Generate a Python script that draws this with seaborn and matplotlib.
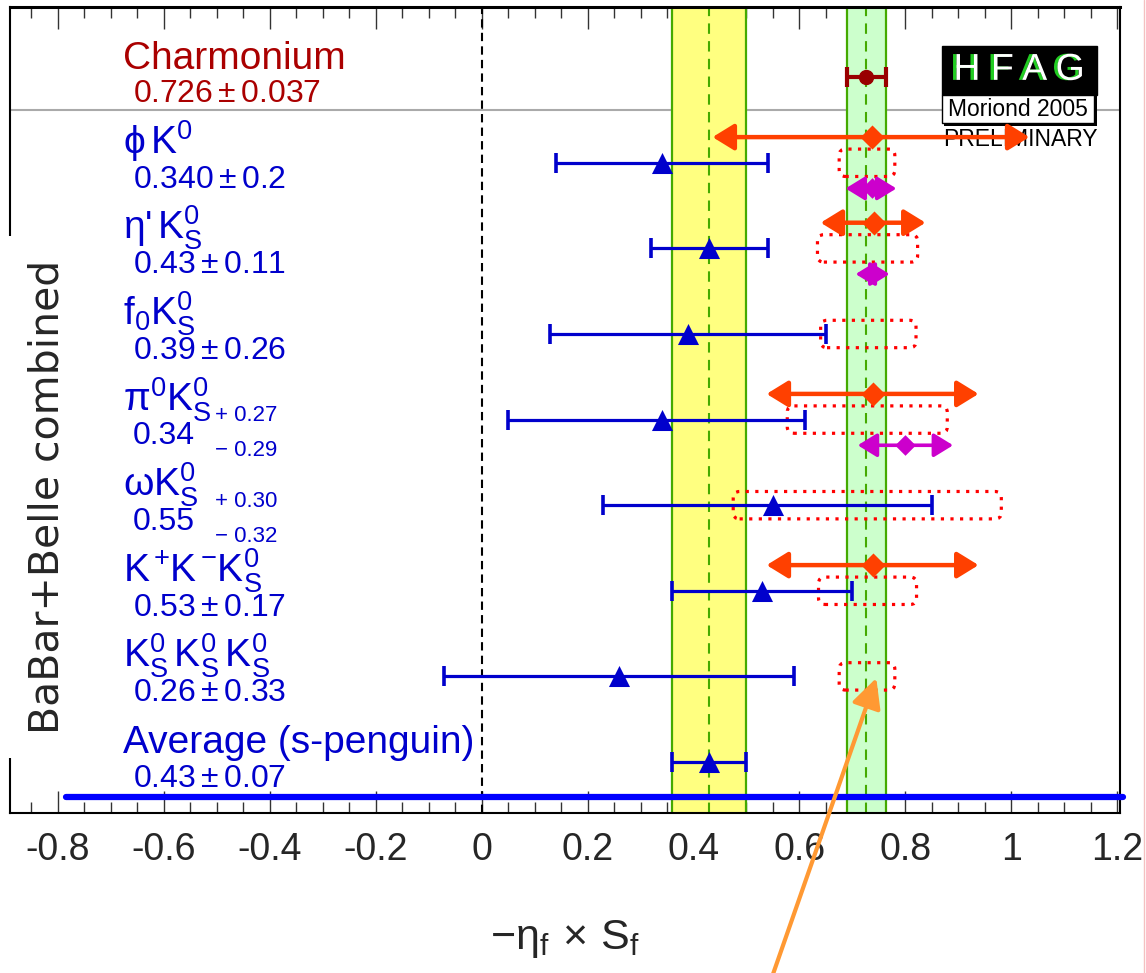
import numpy as np
import matplotlib
matplotlib.use("Agg")
import matplotlib.pyplot as plt
import matplotlib.patheffects as pe
import seaborn as sns
from matplotlib.patches import FancyBboxPatch, FancyArrowPatch, Rectangle
from matplotlib.lines import Line2D
from matplotlib.ticker import MultipleLocator, FixedLocator, FixedFormatter


#--------------------Data--------------------------------------------
modes = ["Charmonium", r"$\phi\,K^0$", r"$\eta$'$\,K^0_S$", r"$f_0K^0_S$", r"$\pi^0K^0_S$",
         r"$\omega K^0_S$", r"$K^+\!K^-\!K^0_S$", r"$K^0_S\,K^0_S\,K^0_S$",
         "Average (s-penguin)"]
value_labels = [r"$0.726\pm0.037$", r"$0.340\pm0.2$", r"$0.43\pm0.11$", r"$0.39\pm0.26$",
                "0.34", "0.55", r"$0.53\pm0.17$", r"$0.26\pm0.33$", r"$0.43\pm0.07$"]
# asymmetric errors are written as separate small labels
asym_rows = [5, 4]
asym_plus = ["+ 0.27", "+ 0.30"]
asym_minus = ["\u2212 0.29", "\u2212 0.32"]

rows = [9, 8, 7, 6, 5, 4, 3, 2, 1]
central = [0.726, 0.34, 0.43, 0.39, 0.34, 0.55, 0.53, 0.26, 0.43]
err_lo = [0.037, 0.20, 0.11, 0.26, 0.29, 0.32, 0.17, 0.33, 0.07]
err_hi = [0.037, 0.20, 0.11, 0.26, 0.27, 0.30, 0.17, 0.33, 0.07]

# dotted boxes (predicted ranges)
box_rows = [8, 7, 6, 5, 4, 3, 2]
box_lo = [0.675, 0.634, 0.640, 0.577, 0.475, 0.636, 0.675]
box_hi = [0.780, 0.823, 0.820, 0.879, 0.981, 0.821, 0.780]

# orange double arrows
arr_rows = [8, 7, 5, 3]
arr_c = [0.736, 0.740, 0.738, 0.738]
arr_lo = [0.436, 0.640, 0.538, 0.538]
arr_hi = [1.034, 0.838, 0.938, 0.938]

# magenta double arrows
mag_rows = [8, 7, 5]
mag_c = [0.736, 0.738, 0.800]
mag_lo = [0.687, 0.706, 0.710]
mag_hi = [0.783, 0.770, 0.890]

tick_vals = [-0.8, -0.6, -0.4, -0.2, 0, 0.2, 0.4, 0.6, 0.8, 1, 1.2]
tick_labels = ["-0.8", "-0.6", "-0.4", "-0.2", "0", "0.2", "0.4", "0.6", "0.8", "1", "1.2"]

pointer_target = (0.745, 1.98)


#--------------------Style-----------------------
sns.set_theme(style="white")
plt.rcParams["font.family"] = ["Liberation Sans", "DejaVu Sans"]
plt.rcParams["mathtext.fontset"] = "custom"
plt.rcParams["mathtext.rm"] = "Liberation Sans"
plt.rcParams["mathtext.it"] = "Liberation Sans:italic"
plt.rcParams["mathtext.default"] = "regular"
plt.rcParams["axes.unicode_minus"] = False

BLUE = "#0000cc"
DARKRED = "#aa0000"
GREEN = "#44aa00"

fig = plt.figure(figsize=(11.46, 9.73), dpi=100)
ax = fig.add_axes([10 / 1146, 1 - 813 / 973, 1110 / 1146, 806 / 973])
ax.set_xlim(-0.89, 1.205)
ax.set_ylim(0.404, 9.82)

# bands: charmonium (green) and s-penguin average (yellow)
for c, e, col in [(central[0], err_lo[0], "#ccffcc"), (central[-1], err_lo[-1], "#ffff80")]:
    ax.axvspan(c - e, c + e, facecolor=col, lw=0, zorder=1)
    ax.axvline(c - e, color=GREEN, lw=1.6, zorder=1.1)
    ax.axvline(c + e, color=GREEN, lw=1.6, zorder=1.1)
    ax.axvline(c, color=GREEN, lw=1.5, ls=(0, (5, 3.5)), zorder=1.1)

ax.axvline(0, color="black", lw=1.5, ls=(0, (4, 2.5)), zorder=1.2)
ax.axhline(8.62, color="#aaaaaa", lw=1.5, zorder=0.8)

# dotted boxes, rounded corners kept round in pixel space
px_x = ax.bbox.width / (ax.get_xlim()[1] - ax.get_xlim()[0])
px_y = ax.bbox.height / (ax.get_ylim()[1] - ax.get_ylim()[0])
for r, lo, hi in zip(box_rows, box_lo, box_hi):
    ax.add_patch(FancyBboxPatch((lo, r - 0.16), hi - lo, 0.32,
                                boxstyle="round,pad=0,rounding_size=0.012",
                                mutation_aspect=px_x / px_y, fill=False, ec="#ff0000",
                                lw=2.3, ls=(0, (1, 2)), zorder=2))

# measurements
ax.errorbar(central[1:], rows[1:], xerr=[err_lo[1:], err_hi[1:]], fmt="none",
            ecolor=BLUE, elinewidth=2.3, capsize=7, capthick=2.6, zorder=3)
sns.scatterplot(x=central[1:], y=rows[1:], marker="^", s=230, color=BLUE,
                linewidth=0, ax=ax, zorder=4, legend=False)
ax.errorbar(central[0], rows[0], xerr=err_lo[0], fmt="o", color="#990000", ms=10,
            elinewidth=3, capsize=7, capthick=3, zorder=3)

# double arrows with a diamond in the middle
for r, lo, hi in zip(arr_rows, arr_lo, arr_hi):
    ax.add_patch(FancyArrowPatch((lo, r + 0.3), (hi, r + 0.3),
                                 arrowstyle="<|-|>,head_length=0.65,head_width=0.4",
                                 mutation_scale=20, color="#ff4000", lw=3.2,
                                 shrinkA=0, shrinkB=0, zorder=5))
sns.scatterplot(x=arr_c, y=np.array(arr_rows) + 0.3, marker="D", s=150, color="#ff4000",
                linewidth=0, ax=ax, zorder=6, legend=False)

for r, lo, hi in zip(mag_rows, mag_lo, mag_hi):
    ax.add_patch(FancyArrowPatch((lo, r - 0.3), (hi, r - 0.3),
                                 arrowstyle="<|-|>,head_length=0.65,head_width=0.4",
                                 mutation_scale=18, color="#cc00cc", lw=2.6,
                                 shrinkA=0, shrinkB=0, zorder=5))
sns.scatterplot(x=mag_c, y=np.array(mag_rows) - 0.3, marker="D", s=110, color="#cc00cc",
                linewidth=0, ax=ax, zorder=6, legend=False)

# row labels
for name, val, r in zip(modes, value_labels, rows):
    col = DARKRED if r == rows[0] else BLUE
    ax.text(-0.677, r + 0.1, name, fontsize=28, color=col, va="baseline", ha="left", zorder=7)
    ax.text(-0.658, r - 0.29, val, fontsize=23, color=col, va="baseline", ha="left", zorder=7)
for r, p, m in zip(asym_rows, asym_plus, asym_minus):
    ax.text(-0.503, r - 0.02, p, fontsize=16, color=BLUE, va="baseline", ha="left", zorder=7)
    ax.text(-0.503, r - 0.43, m, fontsize=16, color=BLUE, va="baseline", ha="left", zorder=7)

ax.text(0.034, 0.392, "BaBar+Belle combined", transform=ax.transAxes, rotation=90,
        fontsize=29.5, ha="center", va="center", family="DejaVu Sans",
        bbox=dict(fc="white", ec="none", pad=17), zorder=10, clip_on=False)

# HFAG logo
ax.add_patch(Rectangle((0.8396, 0.8908), 0.1397, 0.0608, transform=ax.transAxes,
                       fc="black", ec="black", zorder=3.5))
ax.add_patch(Rectangle((0.8416, 0.8526), 0.1377, 0.0382, transform=ax.transAxes,
                       fc="black", ec="none", zorder=3.5))
ax.add_patch(Rectangle((0.8396, 0.8566), 0.1372, 0.0342, transform=ax.transAxes,
                       fc="white", ec="black", lw=1, zorder=3.6))
ax.text(0.909, 0.922, "H F A G", color="white", fontsize=27, ha="center", va="center",
        transform=ax.transAxes, zorder=3.8,
        path_effects=[pe.withSimplePatchShadow(offset=(-2.5, 0), shadow_rgbFace="#22cc22",
                                               alpha=1.0)])
ax.text(0.908, 0.8734, "Moriond 2005", fontsize=16.5, color="black", ha="center", va="center",
        transform=ax.transAxes, zorder=3.8)
ax.text(0.910, 0.8355, "PRELIMINARY", fontsize=16.5, color="black", ha="center", va="center",
        transform=ax.transAxes, zorder=3.8)

# pointer arrow and thick base line
ax.annotate("", xy=pointer_target, xycoords="data", xytext=(770 / 1146, -0.01),
            textcoords="figure fraction",
            arrowprops=dict(arrowstyle="-|>,head_length=0.9,head_width=0.45", color="#ff9933",
                            lw=3, shrinkA=0, shrinkB=0, mutation_scale=20),
            zorder=8, annotation_clip=False)
ax.plot([-0.785, 1.21], [0.59, 0.59], color="#0000ff", lw=4.5, clip_on=False, zorder=6)

# axes
for s in ax.spines.values():
    s.set_color("black")
    s.set_linewidth(1.5)
ax.spines["top"].set_linewidth(2.2)
ax.xaxis.set_major_locator(FixedLocator(tick_vals))
ax.xaxis.set_major_formatter(FixedFormatter(tick_labels))
ax.xaxis.set_minor_locator(MultipleLocator(0.05))
ax.tick_params(axis="x", which="both", direction="in", top=True, bottom=True,
               labelsize=27, pad=14, color="#333333")
ax.tick_params(axis="x", which="major", length=16, width=1)
ax.tick_params(axis="x", which="minor", length=8, width=1)
ax.set_yticks([])
ax.set_xlabel(r"$-\eta_{f}\,\times\,S_{f}$", fontsize=31, labelpad=36)

fig.add_artist(Line2D([0.9985, 0.9985], [0, 1], transform=fig.transFigure, color="#f5c0c0", lw=1))

fig.savefig("out.png", dpi=100)
